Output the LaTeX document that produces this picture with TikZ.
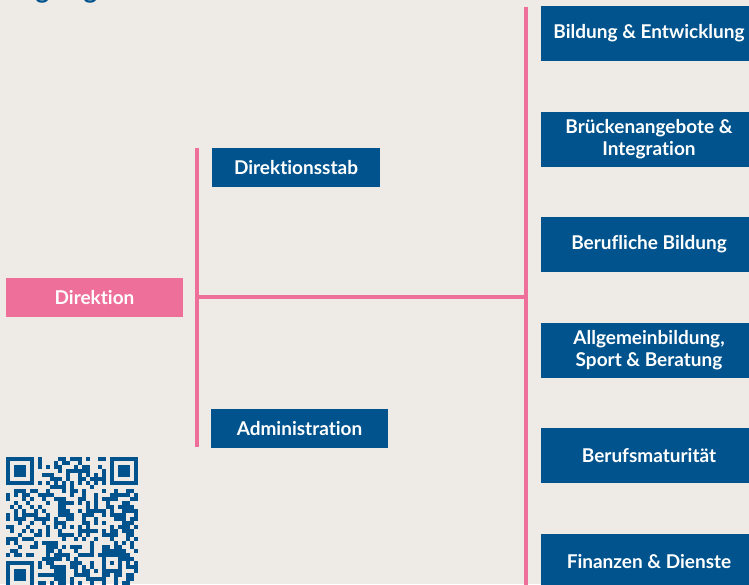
\documentclass[tikz,border=0pt]{standalone}
\usepackage{fontspec}
\setmainfont{Lato}[Ligatures=NoCommon]
\definecolor{bgbeige}{HTML}{EEEAE5}
\definecolor{orgpink}{HTML}{EE6F9A}
\definecolor{orgblue}{HTML}{00538C}
\tikzset{
  unitbox/.style={fill=orgblue,text=white,align=center,inner sep=0pt,
    font=\bfseries\fontsize{19}{22}\selectfont},
  headbox/.style={unitbox,fill=orgpink},
  bus/.style={orgpink,line width=4pt}
}

\begin{document}
\begin{tikzpicture}[x=1pt,y=-1pt]
  \useasboundingbox (0,0) rectangle (749,584);
  \clip (0,0) rectangle (749,584);
  \fill[bgbeige] (0,0) rectangle (749,584);
  % heading, cut off at the top
  \node[anchor=base west,inner sep=0pt,text=orgblue,
    font=\bfseries\fontsize{26}{30}\selectfont] (titel) at (5,-2) {Organigramm};
  % Direktion and staff
  \node[headbox,minimum width=177pt,minimum height=39pt] (direktion) at (94.5,297.5) {Direktion};
  \node[unitbox,minimum width=168pt,minimum height=39pt] (stab) at (296,167.5) {Direktionsstab};
  \node[unitbox,minimum width=177pt,minimum height=39pt] (admin) at (299.5,428.5) {Administration};
  % departments
  \foreach \y/\name/\txt in {33.5/bildung/{Bildung \& Entwicklung},
      139.5/bruecke/{Brückenangebote \&\\Integration},
      244.5/beruf/{Berufliche Bildung},
      350.5/allg/{Allgemeinbildung,\\Sport \& Beratung},
      455.5/bm/{Berufsmaturität},
      561.5/finanzen/{Finanzen \& Dienste}}
    \node[unitbox,minimum width=216pt,minimum height=55pt] (\name) at (649,\y) {\txt};
  % lines
  \coordinate (stabtop) at (197,148);
  \coordinate (adminbot) at (197,447);
  \coordinate (mitte) at (197,297);
  \coordinate (abtmitte) at (526,297);
  \coordinate (abttop) at (526,7);
  \coordinate (abtbot) at (526,590);
  \draw[bus] (stabtop) -- (adminbot);
  \draw[bus] (mitte) -- (abtmitte);
  \draw[bus] (abttop) -- (abtbot);
  % QR code
  \begin{scope}[shift={(6,457)}]
    \pgfmathsetseed{4711}
    \foreach \r in {0,...,32}{
      \foreach \c in {0,...,32}{
        \pgfmathtruncatemacro\qrskip{(\r<8 && \c<8) || (\r<8 && \c>24) || (\r>24 && \c<8) || (\r>23 && \r<29 && \c>23 && \c<29) || \r==6 || \c==6}
        \pgfmathtruncatemacro\qron{rnd<0.5}
        \ifnum\qrskip=0 \ifnum\qron=1 \fill[orgblue] (4*\c,4*\r) rectangle ++(4,4); \fi\fi
      }
    }
    \foreach \k in {8,10,...,24}{
      \fill[orgblue] (4*\k,24) rectangle ++(4,4);
      \fill[orgblue] (24,4*\k) rectangle ++(4,4);
    }
    \foreach \fx/\fy in {0/0,104/0,0/104}{
      \fill[orgblue] (\fx,\fy) rectangle ++(28,28);
      \fill[bgbeige] (\fx+4,\fy+4) rectangle ++(20,20);
      \fill[orgblue] (\fx+8,\fy+8) rectangle ++(12,12);
    }
    \fill[orgblue] (96,96) rectangle ++(20,20);
    \fill[bgbeige] (100,100) rectangle ++(12,12);
    \fill[orgblue] (104,104) rectangle ++(4,4);
  \end{scope}
\end{tikzpicture}
\end{document}
